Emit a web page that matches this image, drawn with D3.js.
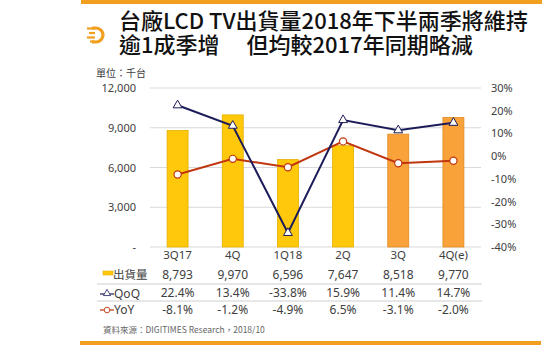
<!DOCTYPE html>
<html>
<head>
<meta charset="utf-8">
<script src="https://cdn.jsdelivr.net/npm/d3@7"></script>
<style>
  body { margin: 0; background: #fff; }
  svg { display: block; font-family: "Noto Sans", "Noto Sans CJK TC", sans-serif; }
</style>
</head>
<body>
<div id="chart"></div>
<script>
// Chart data
const quarters = ['3Q17', '4Q', '1Q18', '2Q', '3Q', '4Q(e)'];
const shipments = [8793, 9970, 6596, 7647, 8518, 9770];
const qoq = [22.4, 13.4, -33.8, 15.9, 11.4, 14.7];
const yoy = [-8.1, -1.2, -4.9, 6.5, -3.1, -2.0];
const leftTicks = [0, 3000, 6000, 9000, 12000];
const rightTicks = [30, 20, 10, 0, -10, -20, -30, -40];
const forecastFrom = 4; // last two bars drawn in orange

const width = 560, height = 350;
const CJK = '"Noto Sans CJK TC", "Noto Sans", sans-serif';
const TEXT = '#404040';

const svg = d3.select('#chart').append('svg')
    .attr('width', width)
    .attr('height', height);

// Top and bottom orange bands
svg.append('rect').attr('x', 81).attr('y', 0).attr('width', 461).attr('height', 4).style('fill', '#F0A01E');
svg.append('rect').attr('x', 80).attr('y', 341).attr('width', 461).attr('height', 4).style('fill', '#F0A01E');

// Logo
const logo = svg.append('g').attr('transform', 'translate(87,27)');
logo.append('path')
    .attr('d', 'M5,1 H9 A7,7 0 0 1 9,15 H5')
    .style('fill', 'none').style('stroke', '#F0A01E').style('stroke-width', 3.2);
[[0, 1.5], [2, 6], [0, 10.5], [3, 14.5]].forEach(([x0, y]) => {
    logo.append('line').attr('x1', x0).attr('x2', 8).attr('y1', y).attr('y2', y)
        .style('stroke', '#F0A01E').style('stroke-width', 2.2);
});

// Title
svg.append('text').attr('x', 119).attr('y', 29)
    .style('font-family', CJK).style('font-size', '22px').style('font-weight', '500').style('fill', '#111')
    .text('台廠LCD TV出貨量2018年下半兩季將維持');
svg.append('text').attr('x', 119).attr('y', 53)
    .style('font-family', CJK).style('font-size', '22px').style('font-weight', '500').style('fill', '#111')
    .attr('xml:space', 'preserve')
    .text('逾1成季增　 但均較2017年同期略減');

// Unit label
svg.append('text').attr('x', 96).attr('y', 77)
    .style('font-family', CJK).style('font-size', '10px').style('fill', TEXT)
    .text('單位：千台');

// Scales
const x = d3.scaleBand().domain(quarters).range([150, 481]).paddingInner(0.62).paddingOuter(0.31);
const yLeft = d3.scaleLinear().domain([0, 12000]).range([247, 88]);
const yRight = d3.scaleLinear().domain([-40, 30]).range([247, 88]);
const cx = d => x(d) + x.bandwidth() / 2;

// Grid lines
svg.append('g').selectAll('line').data(leftTicks).join('line')
    .attr('x1', 150).attr('x2', 481)
    .attr('y1', d => yLeft(d)).attr('y2', d => yLeft(d))
    .style('stroke', '#d9d9d9').style('stroke-width', 1);

// Left axis
svg.append('g')
    .attr('transform', 'translate(136,0)')
    .call(d3.axisLeft(yLeft).tickValues(leftTicks).tickSize(0)
        .tickFormat(d => d === 0 ? '-' : d3.format(',')(d)))
    .call(g => g.select('.domain').remove())
    .call(g => g.selectAll('text').style('font-size', '11px').style('fill', TEXT)
        .style('font-family', '"Noto Sans", sans-serif').attr('x', 0));

// Right axis
svg.append('g')
    .attr('transform', 'translate(491,0)')
    .call(d3.axisRight(yRight).tickValues(rightTicks).tickSize(0).tickFormat(d => d + '%'))
    .call(g => g.select('.domain').remove())
    .call(g => g.selectAll('text').style('font-size', '11px').style('fill', TEXT)
        .style('font-family', '"Noto Sans", sans-serif').attr('x', 0));

// Bars
svg.append('g').selectAll('rect').data(quarters).join('rect')
    .attr('x', d => x(d))
    .attr('width', x.bandwidth())
    .attr('y', (d, i) => yLeft(shipments[i]))
    .attr('height', (d, i) => yLeft(0) - yLeft(shipments[i]))
    .style('fill', (d, i) => i >= forecastFrom ? '#F9A23A' : '#FFC80A')
    .style('stroke', (d, i) => i >= forecastFrom ? '#E08A20' : '#E6AE00')
    .style('stroke-width', 0.8);

// Lines
const qoqLine = d3.line().x((d, i) => cx(quarters[i])).y(d => yRight(d));
svg.append('path').datum(yoy).attr('d', qoqLine)
    .style('fill', 'none').style('stroke', '#C0360E').style('stroke-width', 2);
svg.append('path').datum(qoq).attr('d', qoqLine)
    .style('fill', 'none').style('stroke', '#1C1C5A').style('stroke-width', 2);

// Markers
svg.append('g').selectAll('circle').data(yoy).join('circle')
    .attr('cx', (d, i) => cx(quarters[i])).attr('cy', d => yRight(d)).attr('r', 3.6)
    .style('fill', '#fff').style('stroke', '#C0360E').style('stroke-width', 1.2);
const tri = d3.symbol().type(d3.symbolTriangle).size(34);
svg.append('g').selectAll('path').data(qoq).join('path')
    .attr('d', tri)
    .attr('transform', (d, i) => `translate(${cx(quarters[i])},${yRight(d)})`)
    .style('fill', '#fff').style('stroke', '#1C1C5A').style('stroke-width', 1);

// Category labels
svg.append('g').selectAll('text').data(quarters).join('text')
    .attr('x', d => cx(d)).attr('y', 259)
    .attr('text-anchor', 'middle')
    .style('font-size', '11.5px').style('fill', TEXT)
    .text(d => d);

// Table
const rows = [
    { y: 279, values: shipments.map(d3.format(',')) },
    { y: 297, values: qoq.map(d => d.toFixed(1) + '%') },
    { y: 314, values: yoy.map(d => d.toFixed(1) + '%') }
];
rows.forEach(row => {
    svg.append('g').selectAll('text').data(row.values).join('text')
        .attr('x', (d, i) => cx(quarters[i])).attr('y', row.y)
        .attr('text-anchor', 'middle')
        .style('font-size', '12px').style('fill', TEXT)
        .text(d => d);
});
[284, 301].forEach(y => {
    svg.append('line').attr('x1', 97).attr('x2', 482).attr('y1', y).attr('y2', y)
        .style('stroke', '#cfcfcf').style('stroke-width', 1);
});

// Table legend
svg.append('rect').attr('x', 103).attr('y', 271).attr('width', 10).attr('height', 4)
    .style('fill', '#FFC80A').style('stroke', '#E6AE00').style('stroke-width', 0.6);
svg.append('text').attr('x', 113).attr('y', 279)
    .style('font-family', CJK).style('font-size', '11.5px').style('fill', TEXT).text('出貨量');

svg.append('line').attr('x1', 100).attr('x2', 114).attr('y1', 294).attr('y2', 294)
    .style('stroke', '#1C1C5A').style('stroke-width', 1.2);
svg.append('path').attr('d', d3.symbol().type(d3.symbolTriangle).size(22))
    .attr('transform', 'translate(107,293.5)')
    .style('fill', '#fff').style('stroke', '#1C1C5A').style('stroke-width', 0.8);
svg.append('text').attr('x', 114).attr('y', 298)
    .style('font-size', '12px').style('fill', TEXT).text('QoQ');

svg.append('line').attr('x1', 100).attr('x2', 114).attr('y1', 310).attr('y2', 310)
    .style('stroke', '#C0360E').style('stroke-width', 1.2);
svg.append('circle').attr('cx', 107).attr('cy', 310).attr('r', 2.8)
    .style('fill', '#fff').style('stroke', '#C0360E').style('stroke-width', 0.9);
svg.append('text').attr('x', 114).attr('y', 314)
    .style('font-size', '12px').style('fill', TEXT).text('YoY');

// Source
svg.append('text').attr('x', 103).attr('y', 333)
    .style('font-family', CJK).style('font-size', '8.5px').style('fill', '#666')
    .text('資料來源：DIGITIMES Research，2018/10');
</script>
</body>
</html>
